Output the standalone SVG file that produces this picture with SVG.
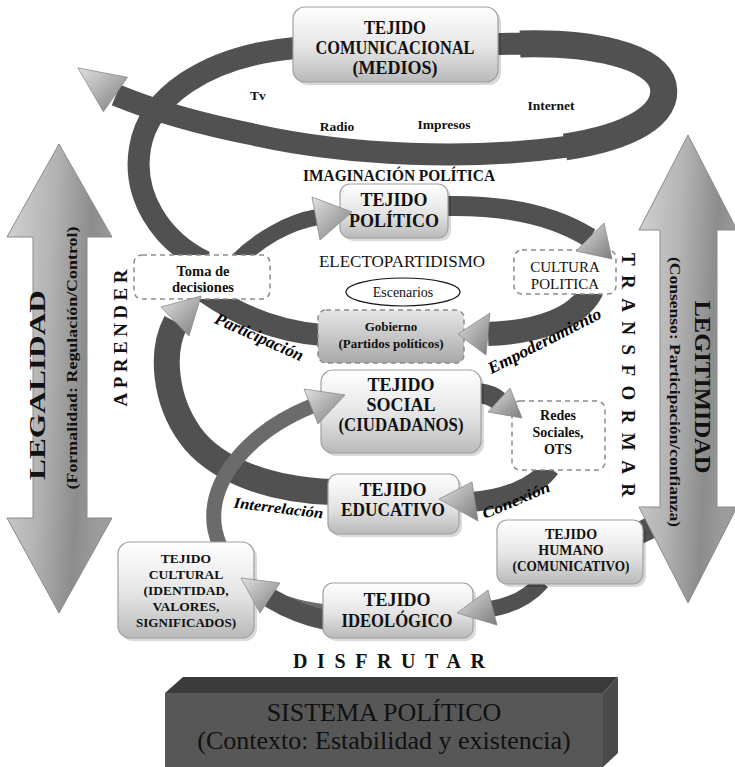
<svg xmlns="http://www.w3.org/2000/svg" width="735" height="767" viewBox="0 0 735 767">
<defs>
<linearGradient id="boxG" x1="0" y1="0" x2="0" y2="1">
<stop offset="0" stop-color="#ffffff"/>
<stop offset="0.55" stop-color="#e4e4e4"/>
<stop offset="1" stop-color="#b9b9b9"/>
</linearGradient>
<linearGradient id="govG" x1="0" y1="0" x2="0" y2="1">
<stop offset="0" stop-color="#e6e6e6"/>
<stop offset="1" stop-color="#a8a8a8"/>
</linearGradient>
<linearGradient id="arrowG" x1="0" y1="0" x2="1" y2="0.25">
<stop offset="0" stop-color="#d4d4d4"/>
<stop offset="0.45" stop-color="#b3b3b3"/>
<stop offset="0.8" stop-color="#8c8c8c"/>
<stop offset="1" stop-color="#9c9c9c"/>
</linearGradient>
<linearGradient id="headG" x1="0" y1="0" x2="1" y2="1">
<stop offset="0" stop-color="#e2e2e2"/>
<stop offset="0.6" stop-color="#a4a4a4"/>
<stop offset="1" stop-color="#7c7c7c"/>
</linearGradient>
</defs>
<style>
text{font-family:"Liberation Serif","Times New Roman",serif;fill:#111}
.b{font-weight:bold}
.c{text-anchor:middle}
.box{fill:url(#boxG);stroke:#a0a0a0;stroke-width:1.2}
.shadow{fill:#000;opacity:0.15}
.dash{fill:#fff;stroke:#8c8c8c;stroke-width:1.5;stroke-dasharray:5 4}
.band{fill:none;stroke:#515151;stroke-linecap:butt}
.light{stroke:#6b6b6b}
.head{fill:url(#headG);stroke:#8a8a8a;stroke-width:0.8}
.big{fill:url(#arrowG);stroke:#8a8a8a;stroke-width:1}
.wa{font-weight:bold;font-style:italic;fill:#000}
.side{font-weight:bold;fill:#111}
</style>

<rect width="735" height="767" fill="#fff"/>

<!-- right band partly hidden behind the LEGITIMIDAD arrow -->
<path class="band" d="M 705 465 C 695 495 672 520 635 535" stroke-width="22"/>

<g id="legalidad">
<polygon class="big" points="59,144 112,237 87,237 87,518 112,518 59,613 7,518 33,518 33,237 7,237"/>
<text class="side c" transform="translate(45,385) rotate(-90)" font-size="24" textLength="190" lengthAdjust="spacingAndGlyphs">LEGALIDAD</text>
<text class="side c" transform="translate(77,358) rotate(-90)" font-size="14" textLength="263" lengthAdjust="spacingAndGlyphs">(Formalidad: Regulación/Control)</text>
</g>

<g id="legitimidad">
<polygon class="big" points="688,135 737,230 717,230 717,507 737,507 688,603 639,507 660,507 660,230 639,230"/>
<text class="side c" transform="translate(695,387) rotate(90)" font-size="24" textLength="173" lengthAdjust="spacingAndGlyphs">LEGITIMIDAD</text>
<text class="side c" transform="translate(670,392) rotate(90)" font-size="14" textLength="270" lengthAdjust="spacingAndGlyphs">(Consenso: Participación/confianza)</text>
</g>

<g id="connectors">
<path class="band" d="M 205 262 C 160 240 132 195 140 148 C 148 98 205 56 295 48 L 500 44 C 590 42 655 55 663 85 C 670 115 630 137 565 147 C 470 160 350 156 255 135" stroke-width="22"/>
<path class="band" d="M 520 44 C 590 42 655 55 663 85 C 670 115 630 137 565 147" stroke-width="27"/>
<path class="band" d="M 256 135 C 200 124 152 110 116 95" stroke-width="22"/>
<path class="band" d="M 332 492 C 270 490 215 470 190 435 C 165 400 160 352 176 322" stroke-width="26"/>
<path class="band" d="M 322 335 C 285 332 245 320 205 292" stroke-width="22"/>
<path class="band" d="M 236 262 C 258 240 288 222 318 217" stroke-width="16"/>
<path class="band" d="M 446 206 C 500 205 552 214 590 238" stroke-width="20"/>
<path class="band" d="M 592 290 C 578 318 540 332 488 334" stroke-width="24"/>
<path class="band" d="M 478 393 C 488 394 495 397 500 402" stroke-width="20"/>
<path class="band" d="M 550 468 C 535 488 505 499 472 502" stroke-width="20"/>
<path class="band light" d="M 326 612 C 270 606 226 580 215 530 C 206 482 248 432 312 406" stroke-width="15"/>
<path class="band" d="M 326 620 C 305 616 285 607 270 598" stroke-width="20"/>
<path class="band" d="M 542 582 C 528 598 510 606 490 609" stroke-width="16"/>
</g>

<g id="tejido-comunicacional">
<rect class="shadow" x="296" y="10" width="205" height="75" rx="12"/>
<rect class="box" x="293" y="7" width="205" height="75" rx="12"/>
<text class="b c" x="395" y="34" font-size="18" textLength="62" lengthAdjust="spacingAndGlyphs">TEJIDO</text>
<text class="b c" x="395" y="54" font-size="18" textLength="159" lengthAdjust="spacingAndGlyphs">COMUNICACIONAL</text>
<text class="b c" x="395" y="74" font-size="18" textLength="85" lengthAdjust="spacingAndGlyphs">(MEDIOS)</text>
</g>

<g id="medios">
<text class="b c" x="258" y="100" font-size="13.5">Tv</text>
<text class="b c" x="337" y="131" font-size="13.5">Radio</text>
<text class="b c" x="444" y="129" font-size="13.5">Impresos</text>
<text class="b c" x="551" y="110" font-size="13.5">Internet</text>
</g>

<text class="b c" x="399" y="181" font-size="17" fill="#000" textLength="192" lengthAdjust="spacingAndGlyphs">IMAGINACIÓN POLÍTICA</text>

<g id="tejido-politico">
<rect class="shadow" x="343" y="187" width="108" height="54" rx="10"/>
<rect class="box" x="340" y="184" width="108" height="54" rx="10"/>
<text class="b c" x="394" y="206" font-size="18">TEJIDO</text>
<text class="b c" x="394" y="227" font-size="18">POLÍTICO</text>
</g>

<text class="c" x="402" y="267" font-size="17">ELECTOPARTIDISMO</text>

<g id="toma-decisiones">
<rect class="dash" x="134" y="255" width="136" height="44" rx="8"/>
<text class="b c" x="203" y="276" font-size="14.5">Toma de</text>
<text class="b c" x="203" y="292" font-size="14.5">decisiones</text>
</g>

<g id="cultura-politica">
<rect class="dash" x="514" y="250" width="102" height="44" rx="8"/>
<text class="c" x="565" y="272" font-size="15">CULTURA</text>
<text class="c" x="565" y="289" font-size="15">POLITICA</text>
</g>

<g id="escenarios">
<ellipse cx="403" cy="292" rx="57" ry="14" fill="#fff" stroke="#111" stroke-width="1.2"/>
<text class="c" x="403" y="297" font-size="14">Escenarios</text>
</g>

<g id="gobierno">
<rect x="318" y="310" width="146" height="53" rx="8" fill="url(#govG)" stroke="#8c8c8c" stroke-width="1.5" stroke-dasharray="5 4"/>
<text class="b c" x="391" y="331" font-size="13">Gobierno</text>
<text class="b c" x="391" y="348" font-size="13">(Partidos políticos)</text>
</g>

<g id="tejido-social">
<rect class="shadow" x="324" y="373" width="160" height="83" rx="12"/>
<rect class="box" x="321" y="370" width="160" height="83" rx="12"/>
<text class="b c" x="401" y="391" font-size="18">TEJIDO</text>
<text class="b c" x="401" y="411" font-size="18">SOCIAL</text>
<text class="b c" x="401" y="431" font-size="18" textLength="125" lengthAdjust="spacingAndGlyphs">(CIUDADANOS)</text>
</g>

<g id="redes-sociales">
<rect class="dash" x="512" y="401" width="93" height="69" rx="8"/>
<text class="b c" x="558" y="420" font-size="14">Redes</text>
<text class="b c" x="558" y="437" font-size="14">Sociales,</text>
<text class="b c" x="558" y="454" font-size="14">OTS</text>
</g>

<g id="tejido-educativo">
<rect class="shadow" x="331" y="477" width="131" height="60" rx="10"/>
<rect class="box" x="328" y="474" width="131" height="60" rx="10"/>
<text class="b c" x="393" y="496" font-size="18">TEJIDO</text>
<text class="b c" x="393" y="516" font-size="18" textLength="104" lengthAdjust="spacingAndGlyphs">EDUCATIVO</text>
</g>

<g id="tejido-humano">
<rect class="shadow" x="500" y="523" width="146" height="64" rx="10"/>
<rect class="box" x="497" y="520" width="146" height="64" rx="10"/>
<text class="b c" x="571" y="539" font-size="14">TEJIDO</text>
<text class="b c" x="571" y="555" font-size="14">HUMANO</text>
<text class="b c" x="571" y="571" font-size="14" textLength="117" lengthAdjust="spacingAndGlyphs">(COMUNICATIVO)</text>
</g>

<g id="tejido-cultural">
<rect class="shadow" x="121" y="545" width="136" height="96" rx="12"/>
<rect class="box" x="118" y="542" width="136" height="96" rx="12"/>
<text class="b c" x="186" y="563" font-size="13.5">TEJIDO</text>
<text class="b c" x="186" y="579" font-size="13.5">CULTURAL</text>
<text class="b c" x="186" y="595" font-size="13.5">(IDENTIDAD,</text>
<text class="b c" x="186" y="611" font-size="13.5">VALORES,</text>
<text class="b c" x="186" y="627" font-size="13.5" textLength="100" lengthAdjust="spacingAndGlyphs">SIGNIFICADOS)</text>
</g>

<g id="tejido-ideologico">
<rect class="shadow" x="326" y="586" width="150" height="55" rx="10"/>
<rect class="box" x="323" y="583" width="150" height="55" rx="10"/>
<text class="b c" x="397" y="606" font-size="18">TEJIDO</text>
<text class="b c" x="397" y="627" font-size="18" textLength="111" lengthAdjust="spacingAndGlyphs">IDEOLÓGICO</text>
</g>

<g id="arrowheads">
<polygon class="head" points="78,68 127.6,77.3 103.4,111.7"/>
<polygon class="head" points="201,296 161,307 189,336"/>
<polygon class="head" points="352,212 312,197 320,240"/>
<polygon class="head" points="612,259 604,223 576,251"/>
<polygon class="head" points="458,334 490,313 486,355"/>
<polygon class="head" points="522,418 510,388 488,412"/>
<polygon class="head" points="439,499 472,482 478,521"/>
<polygon class="head" points="345,395 304,389 318,424"/>
<polygon class="head" points="241,578 280,583 260,613"/>
<polygon class="head" points="457,613 488,590 497,625"/>
</g>

<g id="band-labels">
<text class="wa c" transform="translate(257,342) rotate(24)" font-size="17" textLength="95" lengthAdjust="spacingAndGlyphs">Participación</text>
<text class="wa c" transform="translate(547,346) rotate(-27)" font-size="17" textLength="125" lengthAdjust="spacingAndGlyphs">Empoderamiento</text>
<text class="wa c" transform="translate(278,513) rotate(7)" font-size="15" textLength="90" lengthAdjust="spacingAndGlyphs">Interrelación</text>
<text class="wa c" transform="translate(518,505) rotate(-23)" font-size="15" textLength="72" lengthAdjust="spacingAndGlyphs">Conexión</text>
</g>

<g id="verbs">
<text class="side c" transform="translate(127,338) rotate(-90)" font-size="19" textLength="137" lengthAdjust="spacing">APRENDER</text>
<text class="side c" transform="translate(622,375) rotate(90)" font-size="19" textLength="244" lengthAdjust="spacing">TRANSFORMAR</text>
<text class="side c" x="389" y="668" font-size="20" textLength="192" lengthAdjust="spacing">DISFRUTAR</text>
</g>

<g id="sistema-politico">
<polygon points="165,693 183,677 618,677 603,693" fill="#3b3b3b"/>
<polygon points="603,693 618,677 618,753 603,767" fill="#4a4a4a"/>
<rect x="165" y="693" width="438" height="74" fill="#575757"/>
<text class="c" x="384" y="721" font-size="26" fill="#e6e6e6">SISTEMA POLÍTICO</text>
<text class="c" x="384" y="749" font-size="26" fill="#e6e6e6">(Contexto: Estabilidad y existencia)</text>
</g>
</svg>
